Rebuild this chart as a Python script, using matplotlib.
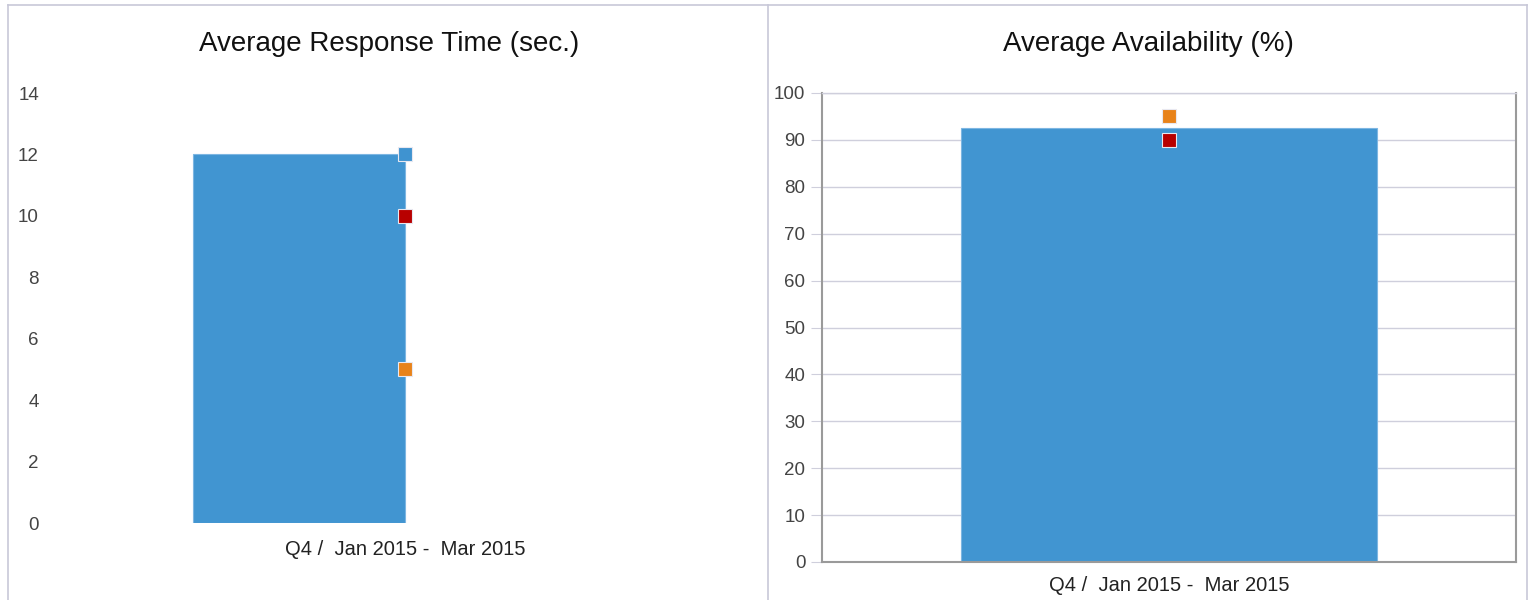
import matplotlib
matplotlib.use("Agg")
import matplotlib.pyplot as plt
from matplotlib.lines import Line2D

plt.rcParams['font.family'] = ['Liberation Sans', 'DejaVu Sans']

category = ["Q4 /  Jan 2015 -  Mar 2015"]

# Left panel: Average Response Time (sec.)
rt_title = "Average Response Time (sec.)"
rt_bar = [12]
rt_marker_blue = [12]
rt_marker_red = [10]
rt_marker_orange = [5]
rt_ticks = [0, 2, 4, 6, 8, 10, 12, 14]

# Right panel: Average Availability (%)
av_title = "Average Availability (%)"
av_bar = [92.5]
av_marker_orange = [95]
av_marker_red = [90]
av_ticks = [0, 10, 20, 30, 40, 50, 60, 70, 80, 90, 100]

W, H = 1529, 600
fig = plt.figure(figsize=(W / 100, H / 100), dpi=100)

BAR = '#4195d1'
BAR_EDGE = '#7db6e2'
BLUE = '#3f93d0'
RED = '#b80000'
ORANGE = '#e8831a'
GRID = '#cfcfdc'
TXT = '#444444'

def px_axes(x0, x1, ytop, ybot):
    return fig.add_axes([x0 / W, 1 - ybot / H, (x1 - x0) / W, (ybot - ytop) / H])

# ---------- Left panel ----------
ax1 = px_axes(50, 760, 93, 523)
x = list(range(len(category)))
ax1.bar([xi - 0.2986 for xi in x], rt_bar, width=0.2986, align='edge',
        color=BAR, edgecolor=BAR_EDGE, linewidth=0.8, zorder=2)
ms = 10
for vals, c in [(rt_marker_blue, BLUE), (rt_marker_red, RED), (rt_marker_orange, ORANGE)]:
    ax1.plot(x, vals, linestyle='none', marker='s', markersize=ms, color=c,
             markeredgecolor='#e8e8f0', markeredgewidth=0.8, zorder=3, clip_on=False)
ax1.set_xlim(-0.5, 0.5)
ax1.set_ylim(0, 14)
ax1.set_yticks(rt_ticks)
ax1.set_xticks(x)
ax1.set_xticklabels(category)
for s in ax1.spines.values():
    s.set_visible(False)
ax1.tick_params(axis='y', length=0, pad=8, labelsize=13.5, labelcolor=TXT)
ax1.tick_params(axis='x', length=0, pad=12, labelsize=14.5, labelcolor='#222222')

# ---------- Right panel ----------
ax2 = px_axes(822, 1516, 93, 562)
ax2.bar(x, av_bar, width=0.6, color=BAR, edgecolor=BAR_EDGE, linewidth=0.8, zorder=2)
for vals, c in [(av_marker_orange, ORANGE), (av_marker_red, RED)]:
    ax2.plot(x, vals, linestyle='none', marker='s', markersize=ms, color=c,
             markeredgecolor='#e8e8f0', markeredgewidth=0.8, zorder=3)
ax2.set_xlim(-0.5, 0.5)
ax2.set_ylim(0, 100)
ax2.set_yticks(av_ticks)
ax2.set_xticks(x)
ax2.set_xticklabels(category)
ax2.yaxis.grid(True, color=GRID, linewidth=1.0, zorder=0)
ax2.set_axisbelow(True)
for side in ['left', 'bottom', 'right']:
    ax2.spines[side].set_color('#9a9a9a')
    ax2.spines[side].set_linewidth(1.5)
ax2.spines['top'].set_color(GRID)
ax2.spines['top'].set_linewidth(1.0)
ax2.tick_params(axis='y', length=8, color=GRID, pad=4, labelsize=13.5, labelcolor=TXT)
ax2.tick_params(axis='x', length=0, pad=10, labelsize=14.5, labelcolor='#222222')

# ---------- Titles ----------
fig.text(389 / W, 1 - 44 / H, rt_title, ha='center', va='center', fontsize=20, color='#111111')
fig.text(1148 / W, 1 - 44 / H, av_title, ha='center', va='center', fontsize=20, color='#111111')

# ---------- Panel borders ----------
bc = '#c8c8d8'
for (xa, ya, xb, yb) in [(8, 5, 1527, 5), (8, 5, 8, 600), (1527, 5, 1527, 600), (768, 5, 768, 600)]:
    fig.add_artist(Line2D([xa / W, xb / W], [1 - ya / H, 1 - yb / H], color=bc, linewidth=1.2,
                          transform=fig.transFigure))

fig.savefig('out.png', dpi=100)
